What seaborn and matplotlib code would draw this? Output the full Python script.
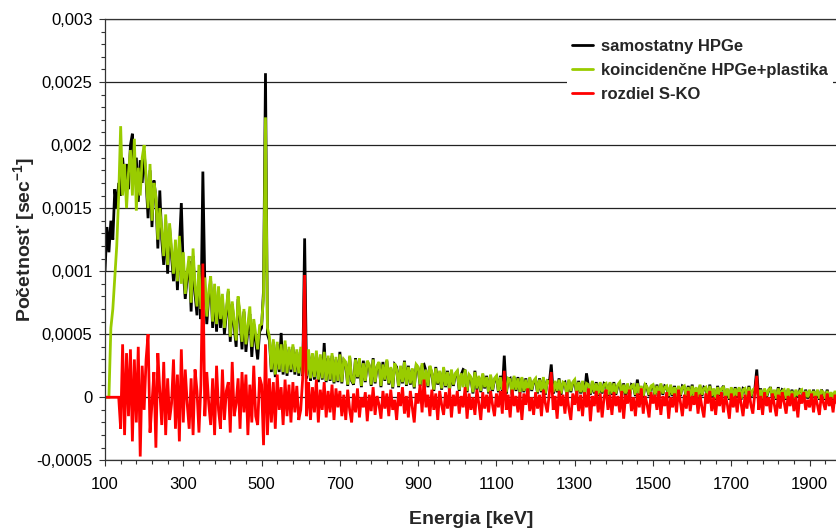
import numpy as np
import pandas as pd
import matplotlib
matplotlib.use("Agg")
import matplotlib.pyplot as plt
import seaborn as sns
from matplotlib.ticker import FixedLocator, MultipleLocator, FuncFormatter

# ---------------- data (values in units of 1e-5 sec^-1) ----------------
UNIT = 1e-5
energy_kev = np.arange(100, 1976, 5)

samostatny = [
    100, 135, 115, 140, 125, 165, 150, 170, 160, 190, 170, 185, 165, 200, 209, 175, 190, 155, 188, 170,
    195, 172, 142, 180, 135, 172, 158, 118, 164, 125, 105, 140, 98, 135, 112, 92, 120, 85, 120, 154,
    100, 78, 95, 108, 68, 112, 82, 65, 98, 62, 179, 90, 58, 80, 92, 55, 85, 52, 84, 55,
    78, 50, 66, 84, 44, 74, 56, 40, 78, 62, 38, 68, 36, 54, 66, 32, 58, 44, 30, 52,
    55, 85, 257, 50, 45, 20, 44, 16, 42, 20, 51, 18, 42, 17, 38, 20, 40, 18, 36, 17,
    38, 17, 126, 15, 36, 13, 34, 14, 35, 12, 32, 14, 43, 12, 31, 13, 33, 11, 30, 12,
    36, 11, 29, 27, 9, 32, 13, 10, 31, 15, 30, 8, 29, 12, 28, 25, 9, 31, 11, 24,
    27, 8, 28, 13, 29, 10, 23, 7, 26, 24, 8, 24, 11, 29, 9, 25, 10, 22, 7, 25,
    23, 9, 25, 26, 21, 8, 24, 19, 5, 24, 10, 20, 6, 23, 8, 21, 5, 21, 9, 18,
    20, 5, 18, 22, 21, 4, 17, 15, 3, 21, 6, 16, 4, 18, 7, 17, 3, 17, 5, 14,
    16, 4, 17, 5, 33, 3, 14, 15, 2, 16, 5, 16, 3, 15, 4, 15, 2, 15, 5, 12,
    14, 3, 15, 4, 15, 2, 14, 11, 26, 3, 12, 4, 15, 2, 11, 12, 1, 13, 4, 11,
    13, 2, 13, 3, 12, 1, 19, 9, 2, 12, 3, 12, 1, 11, 3, 11, 10, 1, 11, 2,
    12, 2, 9, 11, 1, 11, 2, 10, 0, 10, 9, 1, 14, 2, 8, 0, 11, 7, 1, 8,
    9, 1, 10, 0, 10, 2, 9, 8, 0, 9, 1, 9, -1, 8, 1, 9, 8, 0, 9, -1,
    10, 0, 7, -1, 9, 1, 8, 7, -1, 10, 0, 6, -2, 9, 1, 6, 9, -1, 6, -2,
    7, -1, 8, 0, 7, -2, 7, 6, -1, 9, 0, 5, 6, 22, -1, 7, -2, 6, 0, 5,
    8, -1, 5, -2, 8, 0, 6, 5, -2, 6, -1, 6, -2, 5, 0, 6, 5, -2, 6, -1,
    5, -2, 6, -1, 5, -2, 6, 3, -2, 6, -1, 3, -2, 4, -1, 5,
]

koincidencne = [
    0, 0, 0, 55, 70, 95, 120, 160, 215, 160, 185, 150, 178, 196, 160, 205, 148, 182, 160, 190,
    200, 175, 150, 185, 140, 170, 160, 125, 150, 132, 112, 145, 105, 138, 118, 98, 125, 92, 128, 90,
    115, 82, 100, 112, 75, 118, 88, 72, 105, 70, 75, 95, 64, 84, 96, 60, 90, 58, 88, 62,
    82, 55, 70, 86, 48, 76, 60, 45, 80, 66, 44, 70, 42, 58, 72, 40, 62, 50, 38, 57,
    58, 80, 222, 55, 48, 22, 46, 18, 44, 22, 42, 20, 45, 19, 40, 22, 42, 20, 38, 19,
    40, 18, 30, 17, 38, 15, 35, 16, 37, 14, 34, 15, 36, 13, 33, 14, 35, 12, 32, 13,
    34, 12, 30, 28, 10, 33, 14, 11, 30, 16, 31, 9, 27, 13, 29, 26, 10, 30, 12, 25,
    28, 9, 26, 14, 30, 11, 24, 8, 27, 22, 9, 25, 12, 28, 10, 24, 11, 23, 8, 26,
    24, 10, 27, 7, 22, 9, 25, 20, 6, 23, 11, 21, 7, 24, 9, 20, 6, 22, 10, 19,
    21, 6, 19, 8, 22, 5, 18, 16, 4, 20, 7, 17, 5, 19, 8, 16, 4, 18, 6, 15,
    17, 5, 16, 6, 13, 4, 15, 14, 3, 17, 6, 15, 4, 16, 5, 14, 3, 16, 6, 13,
    15, 4, 14, 5, 16, 3, 13, 12, 8, 4, 13, 5, 14, 3, 12, 11, 2, 14, 5, 12,
    14, 3, 12, 4, 13, 2, 11, 10, 3, 13, 4, 11, 2, 12, 4, 10, 11, 2, 12, 3,
    11, 3, 10, 12, 2, 10, 3, 11, 1, 9, 10, 2, 11, 3, 9, 1, 10, 8, 2, 9,
    10, 2, 9, 1, 11, 3, 8, 9, 1, 10, 2, 8, 0, 9, 2, 8, 9, 1, 8, 0,
    9, 1, 8, 0, 10, 2, 7, 8, 0, 9, 1, 7, -1, 8, 2, 7, 8, 0, 7, -1,
    8, 0, 7, 1, 8, -1, 6, 7, 0, 8, 1, 6, 7, 6, 0, 6, -1, 7, 1, 6,
    7, 0, 6, -1, 7, 1, 5, 6, -1, 7, 0, 5, -1, 6, 1, 5, 6, -1, 5, 0,
    6, -1, 5, 0, 6, -1, 5, 4, -1, 5, 0, 4, -1, 5, 0, 4,
]

rozdiel = [
    0, 0, 0, 0, 0, 0, 0, 0, -25, 42, -30, 35, -15, 38, -35, 30, -20, 40, -47, 25,
    -10, 30, 50, -28, -5, 20, -40, 35, 5, -22, 28, -30, 15, -18, -5, 30, -25, 18, -35, 38,
    -20, 22, -5, -25, 15, -30, 22, 5, -28, 10, 106, -15, 20, -5, -22, 15, -30, 25, -10, -25,
    22, -18, 5, 12, -28, 28, -15, -5, 15, -25, 20, -12, 18, -30, 10, -20, 25, -15, -22, 16,
    10, -38, 42, -30, 15, -20, 12, -25, 18, -10, 8, -22, 14, -15, 10, -20, 12, -12, 9, -18,
    -10, 15, 97, -15, 12, -18, 8, -12, 14, -20, 6, -10, 12, -16, 5, -12, 10, -18, 7, -8,
    5, -15, 2, -18, 6, -10, -20, 3, -12, 7, -16, 0, -8, 4, -19, 2, -11, 8, -14, 1,
    -6, -17, 5, -9, 3, -15, 6, -10, -2, -18, 4, -7, 8, -13, 1, -16, 5, -8, -20, 3,
    -5, 10, -12, 14, -8, 2, -15, 6, -10, 3, -18, 5, -6, -14, 4, -9, 7, -16, 2, -7,
    5, -13, 1, -8, 8, -17, 3, -10, 0, -14, 6, -5, -18, 4, -9, 2, -12, 5, -6, -15,
    3, -8, 5, -13, 21, -10, 2, -16, 6, -7, 1, -12, 4, -18, 3, -6, 7, -11, 0, -14,
    4, -9, 2, -15, 6, -5, -12, 3, 20, -10, 1, -17, 5, -7, 2, -13, 4, -9, -18, 3,
    -6, 5, -11, 2, -15, 4, -8, 7, -19, 1, -7, 5, -12, 3, -16, 0, 6, -10, 2, -14,
    4, -7, 1, -12, 5, -17, 2, -5, 6, -11, 0, -15, 3, -8, 7, -13, 1, -6, -16, 4,
    -5, 2, -10, 5, -14, 1, -7, 4, -17, 0, -8, 3, -12, 6, -4, -15, 2, -9, 5, -11,
    1, -6, 4, -13, 2, -8, -16, 3, -5, 5, -11, 0, -14, 2, -7, 4, -12, 1, -6, -17,
    3, -8, 1, -12, 4, -5, -15, 2, -9, 5, -6, -13, 3, 17, -10, 1, -14, 4, -7, 0,
    -12, 3, -6, -15, 2, -9, 4, -4, -13, 1, -7, 3, -11, 0, -16, 2, -5, 4, -10, -2,
    -8, 3, -12, 1, -6, -14, 2, -4, -10, 3, -7, 0, -12, 2, -5, -9,
]

series_labels = ["samostatny HPGe", "koincidenčne HPGe+plastika", "rozdiel S-KO"]
series_colors = ["#000000", "#99cc00", "#ff0000"]
x_tick_values = [100, 300, 500, 700, 900, 1100, 1300, 1500, 1700, 1900]

frames = []
for vals, lab in zip([samostatny, koincidencne, rozdiel], series_labels):
    frames.append(pd.DataFrame({"Energia": energy_kev,
                                "hodnota": np.asarray(vals, dtype=float) * UNIT,
                                "serie": lab}))
df = pd.concat(frames, ignore_index=True)

# ---------------- style ----------------
sns.set_theme(style="white")
plt.rcParams["font.family"] = ["Liberation Sans", "DejaVu Sans"]
plt.rcParams["mathtext.fontset"] = "custom"
plt.rcParams["mathtext.rm"] = "Liberation Sans"
plt.rcParams["mathtext.bf"] = "Liberation Sans:bold"

fig = plt.figure(figsize=(8.37, 5.31), dpi=100)
ax = fig.add_axes([105 / 837, (531 - 460.3) / 531, 732 / 837, 441.3 / 531])

sns.lineplot(data=df, x="Energia", y="hodnota", hue="serie", hue_order=series_labels,
             palette=dict(zip(series_labels, series_colors)), estimator=None,
             sort=False, linewidth=2.0, ax=ax)
for ln in ax.get_lines():
    ln.set_solid_joinstyle("miter")

ax.set_xlim(100, 1970)
ax.set_ylim(-0.0005, 0.003)
ax.xaxis.set_major_locator(FixedLocator(x_tick_values))
ax.xaxis.set_minor_locator(FixedLocator(np.arange(100, 1971, 40)))
ax.yaxis.set_major_locator(MultipleLocator(0.0005))
ax.yaxis.set_minor_locator(MultipleLocator(0.0001))


def fmt_y(v, pos):
    if abs(v) < 1e-12:
        return "0"
    s = f"{v:.4f}".rstrip("0").rstrip(".")
    return s.replace(".", ",")


ax.yaxis.set_major_formatter(FuncFormatter(fmt_y))
ax.xaxis.set_major_formatter(FuncFormatter(lambda v, p: f"{int(round(v))}"))

ax.grid(axis="y", which="major", color="#222222", linewidth=0.9)
ax.set_axisbelow(True)

for side in ["left", "bottom", "top"]:
    ax.spines[side].set_visible(True)
    ax.spines[side].set_color("#333333")
    ax.spines[side].set_linewidth(0.9)
ax.spines["right"].set_visible(False)

ax.tick_params(axis="both", which="major", direction="out", length=4, width=0.8,
               color="#333333", labelsize=12, labelcolor="black")
ax.tick_params(axis="both", which="minor", direction="out", length=3, width=0.8,
               color="#333333")
ax.tick_params(axis="x", which="both", bottom=True, top=False, pad=8)
ax.tick_params(axis="y", which="both", left=True, right=False, pad=5)

ax.set_xlabel("Energia [keV]", fontsize=14, fontweight="bold")
ax.set_ylabel(r"Početnosť [sec$^{\mathbf{-1}}$]", fontsize=14, fontweight="bold")
ax.xaxis.set_label_coords(0.5, (460.3 - 520) / 441.3)
ax.xaxis.label.set_va("center")
ax.yaxis.set_label_coords((25 - 105) / 732, 0.5)
ax.yaxis.label.set_va("center")

handles, labels = ax.get_legend_handles_labels()
leg = ax.legend(handles, labels, loc="upper left",
                bbox_to_anchor=(567 / 837, 1 - 34 / 531), bbox_transform=fig.transFigure,
                frameon=True, facecolor="white", edgecolor="none", framealpha=1,
                fancybox=False, prop={"weight": "bold", "size": 12},
                handlelength=1.26, handletextpad=0.48, labelspacing=0.55,
                borderpad=0.3, borderaxespad=0)
for line in leg.get_lines():
    line.set_linewidth(2)

fig.savefig("out.png", dpi=100)
